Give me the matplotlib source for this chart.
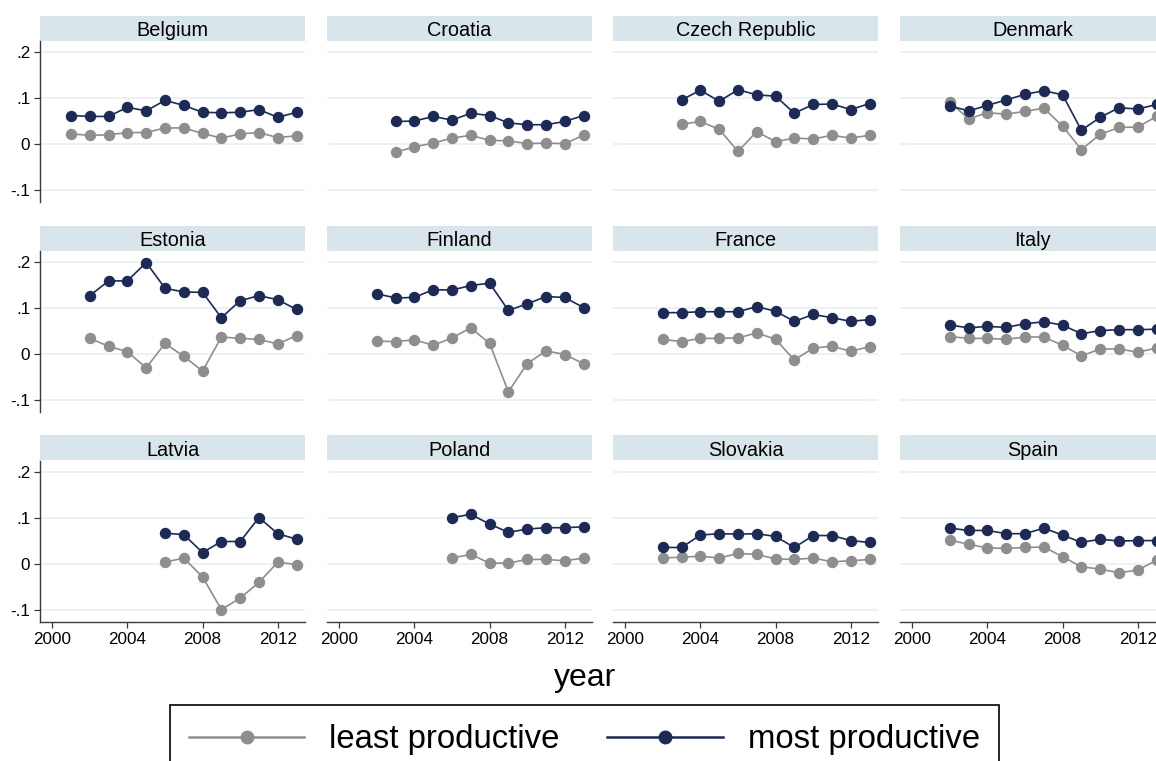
import matplotlib
matplotlib.use("Agg")
import matplotlib.pyplot as plt
from matplotlib.patches import Rectangle
from matplotlib.lines import Line2D

plt.rcParams['font.family'] = ['Liberation Sans', 'DejaVu Sans']

# ---- data -------------------------------------------------------------
countries = ["Belgium", "Croatia", "Czech Republic", "Denmark",
             "Estonia", "Finland", "France", "Italy",
             "Latvia", "Poland", "Slovakia", "Spain"]

first_year = [2001, 2003, 2003, 2002,
              2002, 2002, 2002, 2002,
              2006, 2006, 2002, 2002]

least_productive = [
    [0.022, 0.019, 0.020, 0.025, 0.025, 0.035, 0.035, 0.023, 0.013, 0.022, 0.025, 0.014, 0.018],
    [-0.018, -0.006, 0.002, 0.013, 0.019, 0.008, 0.007, 0.001, 0.002, 0.001, 0.019],
    [0.043, 0.049, 0.032, -0.016, 0.027, 0.005, 0.013, 0.011, 0.019, 0.013, 0.019],
    [0.091, 0.055, 0.068, 0.065, 0.071, 0.078, 0.039, -0.012, 0.021, 0.036, 0.037, 0.060],
    [0.034, 0.017, 0.005, -0.030, 0.023, -0.005, -0.037, 0.037, 0.034, 0.032, 0.022, 0.040],
    [0.028, 0.027, 0.031, 0.019, 0.035, 0.057, 0.023, -0.082, -0.021, 0.007, -0.001, -0.021],
    [0.032, 0.027, 0.034, 0.034, 0.035, 0.046, 0.032, -0.013, 0.013, 0.017, 0.006, 0.016],
    [0.038, 0.034, 0.034, 0.032, 0.037, 0.037, 0.019, -0.004, 0.011, 0.011, 0.004, 0.013],
    [0.004, 0.013, -0.028, -0.099, -0.074, -0.040, 0.004, -0.001],
    [0.013, 0.021, 0.002, 0.002, 0.010, 0.010, 0.007, 0.013],
    [0.013, 0.015, 0.017, 0.013, 0.023, 0.021, 0.011, 0.010, 0.013, 0.005, 0.007, 0.010],
    [0.052, 0.043, 0.035, 0.034, 0.036, 0.037, 0.016, -0.006, -0.011, -0.019, -0.013, 0.008],
]

most_productive = [
    [0.062, 0.060, 0.060, 0.080, 0.072, 0.095, 0.084, 0.069, 0.068, 0.069, 0.075, 0.058, 0.069],
    [0.049, 0.050, 0.060, 0.052, 0.067, 0.062, 0.046, 0.042, 0.042, 0.049, 0.062],
    [0.096, 0.117, 0.093, 0.118, 0.107, 0.104, 0.067, 0.086, 0.087, 0.075, 0.088],
    [0.083, 0.072, 0.084, 0.096, 0.108, 0.116, 0.107, 0.030, 0.058, 0.079, 0.076, 0.086],
    [0.127, 0.159, 0.159, 0.199, 0.143, 0.135, 0.134, 0.079, 0.116, 0.127, 0.118, 0.097],
    [0.131, 0.122, 0.123, 0.140, 0.139, 0.149, 0.154, 0.095, 0.109, 0.125, 0.123, 0.101],
    [0.090, 0.090, 0.092, 0.092, 0.092, 0.103, 0.093, 0.071, 0.086, 0.079, 0.071, 0.075],
    [0.063, 0.057, 0.060, 0.058, 0.066, 0.070, 0.063, 0.044, 0.051, 0.053, 0.053, 0.054],
    [0.067, 0.064, 0.025, 0.049, 0.049, 0.101, 0.066, 0.054],
    [0.101, 0.108, 0.087, 0.069, 0.076, 0.079, 0.079, 0.081],
    [0.036, 0.036, 0.063, 0.066, 0.065, 0.066, 0.060, 0.036, 0.062, 0.062, 0.051, 0.047],
    [0.078, 0.073, 0.073, 0.066, 0.066, 0.078, 0.063, 0.047, 0.054, 0.050, 0.051, 0.051],
]

x_ticks = [2000, 2004, 2008, 2012]
y_ticks = [-0.1, 0.0, 0.1, 0.2]
y_tick_labels = ["-.1", "0", ".1", ".2"]
series_labels = ["least productive", "most productive"]

# ---- style ------------------------------------------------------------
LEAST_COLOR = "#8e8e8e"
MOST_COLOR = "#1c2a55"
GRID_COLOR = "#e8eff2"
STRIP_COLOR = "#d8e5eb"
AXIS_COLOR = "#3a3a3a"

W, H, DPI = 1156, 761, 100
fig = plt.figure(figsize=(W / DPI, H / DPI), dpi=DPI)
fig.patch.set_facecolor("white")

col_left = [40, 327, 613, 900]
row_top = [41, 251, 461]
panel_w, panel_h = 265, 161
strip_h = 25

for i, name in enumerate(countries):
    r, c = divmod(i, 4)
    left, top = col_left[c], row_top[r]
    ax = fig.add_axes([left / W, 1 - (top + panel_h) / H, panel_w / W, panel_h / H])
    ax.set_xlim(1999.35, 2013.45)
    ax.set_ylim(-0.126, 0.224)

    for yv in y_ticks:
        ax.axhline(yv, color=GRID_COLOR, lw=1.2, zorder=0)

    years = list(range(first_year[i], first_year[i] + len(most_productive[i])))
    ax.plot(years, least_productive[i], color=LEAST_COLOR, lw=1.2,
            marker="o", ms=7.2, mec=LEAST_COLOR, mfc=LEAST_COLOR, zorder=3)
    ax.plot(years, most_productive[i], color=MOST_COLOR, lw=1.2,
            marker="o", ms=7.2, mec=MOST_COLOR, mfc=MOST_COLOR, zorder=4)

    for s in ax.spines.values():
        s.set_visible(False)

    # panel header: shaded band with the country name
    ax.add_patch(Rectangle((0, 1 + 0.5 / panel_h), 1, strip_h / panel_h,
                           transform=ax.transAxes, facecolor=STRIP_COLOR,
                           edgecolor="none", clip_on=False))
    ax.text(0.5, 1 + 5.5 / panel_h, name, transform=ax.transAxes,
            ha="center", va="baseline", fontsize=14.3, color="black")

    if c == 0:
        ax.spines["left"].set_visible(True)
        ax.spines["left"].set_color(AXIS_COLOR)
        ax.spines["left"].set_linewidth(1.0)
        ax.set_yticks(y_ticks)
        ax.set_yticklabels(y_tick_labels)
        ax.tick_params(axis="y", direction="out", length=4, width=0.9,
                       color=AXIS_COLOR, labelsize=12.3, pad=3)
    else:
        ax.set_yticks([])

    if r == 2:
        ax.spines["bottom"].set_visible(True)
        ax.spines["bottom"].set_color(AXIS_COLOR)
        ax.spines["bottom"].set_linewidth(1.0)
        ax.set_xticks(x_ticks)
        ax.set_xticklabels([str(t) for t in x_ticks])
        ax.tick_params(axis="x", direction="out", length=4, width=0.9,
                       color=AXIS_COLOR, labelsize=12.3, pad=3)
    else:
        ax.set_xticks([])

fig.text(585 / W, 1 - 678 / H, "year", ha="center", va="center", fontsize=23)

handles = [
    Line2D([], [], color=LEAST_COLOR, lw=1.8, marker="o", ms=9, mfc=LEAST_COLOR, mec=LEAST_COLOR),
    Line2D([], [], color=MOST_COLOR, lw=1.8, marker="o", ms=9, mfc=MOST_COLOR, mec=MOST_COLOR),
]
leg = fig.legend(handles, series_labels, loc="upper left",
                 bbox_to_anchor=(170 / W, 1 - 705 / H), ncol=2,
                 fontsize=23.7, frameon=True, fancybox=False, framealpha=1,
                 edgecolor="black", handlelength=3.5, handletextpad=0.76,
                 columnspacing=1.45, borderpad=0.58, borderaxespad=0)
leg.get_frame().set_linewidth(1.2)

fig.savefig("out.png", dpi=DPI, facecolor="white")
